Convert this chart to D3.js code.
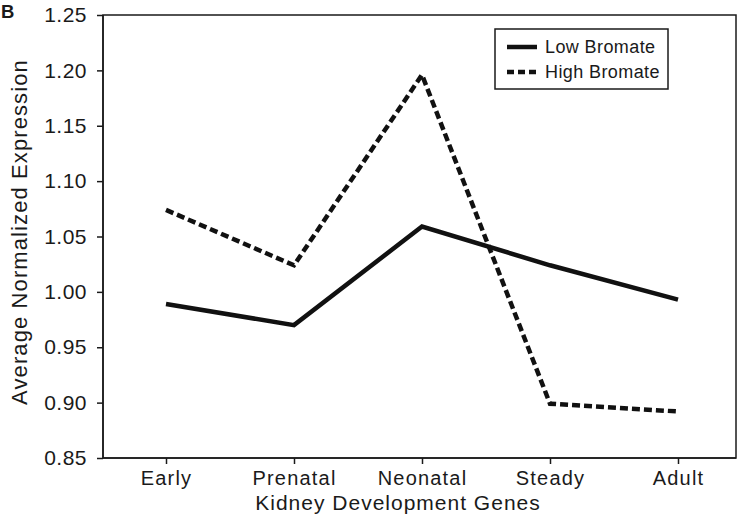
<!DOCTYPE html>
<html><head><meta charset="utf-8">
<script src="https://cdn.jsdelivr.net/npm/d3@7"></script>
<style>body{margin:0;background:#fff}svg{display:block}text{font-family:"Liberation Sans",Arial,sans-serif;fill:#1a1a1a}</style>
</head><body>
<script>
const categories = ["Early","Prenatal","Neonatal","Steady","Adult"];
const lowBromate = [0.989, 0.970, 1.059, 1.024, 0.993];
const highBromate = [1.074, 1.024, 1.196, 0.899, 0.892];
const yTicks = [0.85,0.90,0.95,1.00,1.05,1.10,1.15,1.20,1.25];

const W=742,H=520, L=103, R=736, T=15, B=458;
const svg=d3.select("body").append("svg").attr("width",W).attr("height",H);
const x=d3.scalePoint().domain(categories).range([166,678]);
const y=d3.scaleLinear().domain([0.85,1.25]).range([B,T]);

// frame
svg.append("rect").attr("x",L).attr("y",T).attr("width",R-L).attr("height",B-T)
  .attr("fill","none").attr("stroke","#1a1a1a").attr("stroke-width",1.5);

const yAx=svg.append("g").attr("transform",`translate(${L},0)`)
  .call(d3.axisLeft(y).tickValues(yTicks).tickFormat(d3.format(".2f")).tickSize(6).tickPadding(10));
const xAx=svg.append("g").attr("transform",`translate(0,${B})`)
  .call(d3.axisBottom(x).tickSize(6).tickPadding(7));
[yAx,xAx].forEach(g=>{
  g.select(".domain").remove();
  g.selectAll("line").attr("stroke","#1a1a1a").attr("stroke-width",1.5);
  g.selectAll("text").attr("fill","#1a1a1a").style("font-family","Liberation Sans, Arial, sans-serif");
});
yAx.selectAll("text").attr("font-size",21).style("letter-spacing","0.5px");
xAx.selectAll("text").attr("font-size",20).style("letter-spacing","1.2px");
svg.append("line").attr("x1",L).attr("x2",L).attr("y1",T).attr("y2",B).attr("stroke","#1a1a1a").attr("stroke-width",1.5);
svg.append("line").attr("x1",L).attr("x2",R).attr("y1",B).attr("y2",B).attr("stroke","#1a1a1a").attr("stroke-width",1.5);

const line=d3.line().x((d,i)=>x(categories[i])).y(d=>y(d));
svg.append("path").datum(lowBromate).attr("d",line).attr("fill","none")
  .attr("stroke","#111").attr("stroke-width",4.5);
svg.append("path").datum(highBromate).attr("d",line).attr("fill","none")
  .attr("stroke","#111").attr("stroke-width",4.5).attr("stroke-dasharray","8,4");

// legend
const lg=svg.append("g");
lg.append("rect").attr("x",495).attr("y",29).attr("width",173).attr("height",60)
  .attr("fill","#fff").attr("stroke","#1a1a1a").attr("stroke-width",1.5);
[["Low Bromate",null,47],["High Bromate","7,4",72]].forEach(([t,da,yy])=>{
  lg.append("line").attr("x1",507).attr("x2",537).attr("y1",yy).attr("y2",yy)
    .attr("stroke","#111").attr("stroke-width",4.5).attr("stroke-dasharray",da);
  lg.append("text").attr("x",545).attr("y",yy+6).attr("font-size",18).style("letter-spacing","0.4px").text(t);
});

svg.append("text").attr("x",1).attr("y",18).attr("font-size",18.5).attr("font-weight","bold").text("B");
svg.append("text").attr("transform",`translate(27,232) rotate(-90)`).attr("text-anchor","middle")
  .attr("font-size",22).style("letter-spacing","1.1px").text("Average Normalized Expression");
svg.append("text").attr("x",398).attr("y",510).attr("text-anchor","middle")
  .attr("font-size",21).style("letter-spacing","1px").text("Kidney Development Genes");
</script>
</body></html>
